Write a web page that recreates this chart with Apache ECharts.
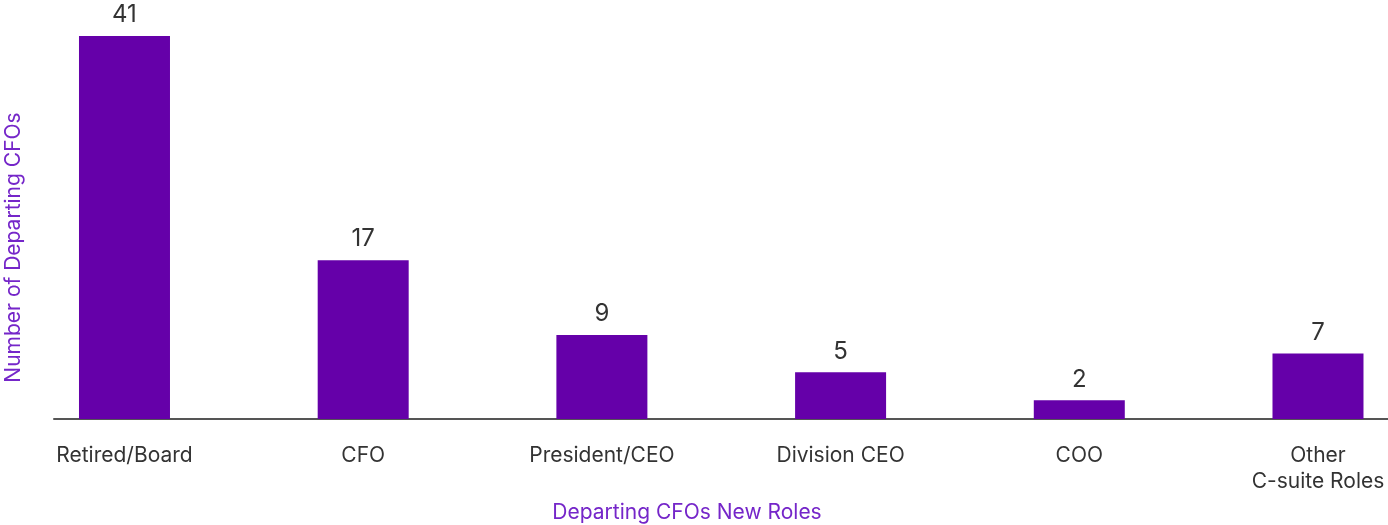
<!DOCTYPE html>
<html>
<head>
<meta charset="utf-8">
<script src="https://cdn.jsdelivr.net/npm/echarts@6/dist/echarts.min.js"></script>
<style>
  html, body { margin: 0; padding: 0; background: #ffffff; }
  #chart { width: 1388px; height: 525px; }
</style>
</head>
<body>
<div id="chart"></div>
<script>
// Where departing CFOs went next
const roles = ['Retired/Board', 'CFO', 'President/CEO', 'Division CEO', 'COO', 'Other\nC-suite Roles'];
const counts = [41, 17, 9, 5, 2, 7];
const slots = roles.map((_, i) => i);

const FONT = 'Inter, "Noto Sans", sans-serif';
const PURPLE = '#6500a9';
const NAME_COLOR = '#7526c9';
const TEXT = '#333333';

const chart = echarts.init(document.getElementById('chart'), null, { renderer: 'canvas' });

chart.setOption({
  animation: false,
  textStyle: { fontFamily: FONT },
  grid: { left: 54, right: 0, top: 36, height: 383, containLabel: false },
  xAxis: {
    // role slots sit at whole numbers; the baseline runs a little past the end slots
    type: 'value',
    min: -0.2953,
    max: 5.2933,
    axisLine: { show: true, lineStyle: { color: '#555555', width: 2 } },
    axisTick: { show: false },
    splitLine: { show: false },
    axisLabel: {
      customValues: slots,
      formatter: v => roles[Math.round(v)],
      color: TEXT,
      fontFamily: FONT,
      fontSize: 21,
      lineHeight: 26,
      margin: 24,
      showMinLabel: true,
      showMaxLabel: true
    }
  },
  yAxis: {
    type: 'value',
    min: 0,
    max: 41,
    axisLine: { show: false },
    axisTick: { show: false },
    axisLabel: { show: false },
    splitLine: { show: false }
  },
  series: [{
    type: 'bar',
    data: counts.map((c, i) => [slots[i], c]),
    barWidth: 91,
    itemStyle: { color: PURPLE },
    label: {
      show: true,
      position: 'top',
      distance: 9,
      color: TEXT,
      fontFamily: FONT,
      fontSize: 24,
      formatter: p => String(p.value[1])
    }
  }]
});

// Axis titles placed relative to the plotted scale
const baseY = chart.convertToPixel({ yAxisIndex: 0 }, 0);
const topY = chart.convertToPixel({ yAxisIndex: 0 }, 41);
chart.setOption({
  graphic: [
    {
      type: 'text',
      x: 687, y: baseY + 94,
      style: {
        text: 'Departing CFOs New Roles',
        fill: NAME_COLOR, font: '21px ' + FONT,
        align: 'center', verticalAlign: 'middle'
      }
    },
    {
      type: 'text',
      x: 14, y: (baseY + topY) / 2 + 20,
      rotation: Math.PI / 2,
      style: {
        text: 'Number of Departing CFOs',
        fill: NAME_COLOR, font: '21px ' + FONT,
        align: 'center', verticalAlign: 'middle'
      }
    }
  ]
});
</script>
</body>
</html>
